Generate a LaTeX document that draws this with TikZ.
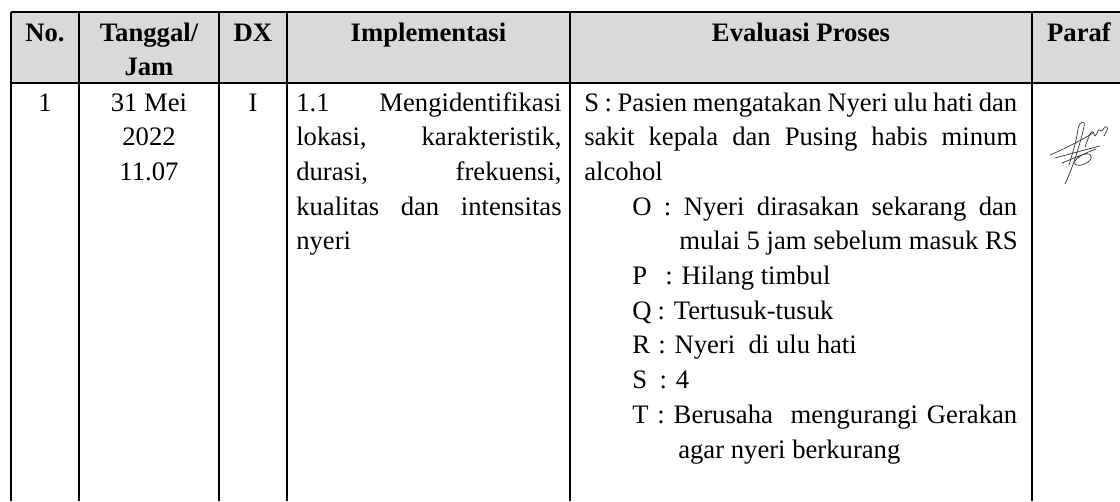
\documentclass[tikz,border=0pt]{standalone}
\usepackage{fontspec}
\setmainfont{Liberation Serif}
\usepackage{tikz}
\definecolor{headgray}{RGB}{217,217,217}
\definecolor{inkgray}{RGB}{45,45,45}

\begin{document}
\begin{tikzpicture}[x=0.75pt, y=-0.75pt,
  rule/.style={draw=black, line width=1.1pt},
  headtxt/.style={anchor=base, inner sep=0pt, font=\fontsize{20}{26}\selectfont\bfseries},
  celltxt/.style={anchor=base, inner sep=0pt, font=\fontsize{20}{26}\selectfont},
  lefttxt/.style={celltxt, anchor=base west},
  sign/.style={draw=inkgray, line width=0.5pt, line cap=round, line join=round}]
  \useasboundingbox (0,0) rectangle (1120,501);
  % header band and rules
  \fill[headgray] (11,12) rectangle (1120,83);
  \draw[rule] (11,12) -- (1120,12);
  \draw[rule] (11,83) -- (1120,83);
  \foreach \cx in {11,79,219,287,570,1032}
    \draw[rule] (\cx,12) -- (\cx,501);
  % header
  \node[headtxt] (hNo) at (45,41) {No.};
  \node[headtxt] (hTgl) at (149,41) {Tanggal/};
  \node[headtxt] (hJam) at (149,75) {Jam};
  \node[headtxt] (hDx) at (253,41) {DX};
  \node[headtxt] (hImpl) at (428.5,41) {Implementasi};
  \node[headtxt] (hEval) at (801,41) {Evaluasi Proses};
  \node[headtxt] (hParaf) at (1079,41) {Paraf};
  % first row
  \node[celltxt] (rNo) at (45,111) {1};
  \node[celltxt] (rTgl) at (149,111) {31 Mei};
  \node[celltxt] (rThn) at (149,145.7) {2022};
  \node[celltxt] (rJam) at (149,180.4) {11.07};
  \node[celltxt] (rDx) at (253,111) {I};
  % implementasi
  \node[lefttxt] (imA) at (296,111) {\makebox[199pt][s]{1.1 Mengidentifikasi}};
  \node[lefttxt] (imB) at (296,145.7) {\makebox[199pt][s]{lokasi, karakteristik,}};
  \node[lefttxt] (imC) at (296,180.4) {\makebox[199pt][s]{durasi, frekuensi,}};
  \node[lefttxt] (imD) at (296,215.1) {\makebox[199pt][s]{kualitas dan intensitas}};
  \node[lefttxt] (imE) at (296,249.8) {nyeri};
  % evaluasi proses
  \node[lefttxt] (evS) at (584,111) {\makebox[324.75pt][s]{S : Pasien mengatakan Nyeri ulu hati dan}};
  \node[lefttxt] (evS2) at (584,145.7) {\makebox[324.75pt][s]{sakit kepala dan Pusing habis minum}};
  \node[lefttxt] (evS3) at (584,180.4) {alcohol};
  \node[lefttxt] (evO) at (632,215.1) {\makebox[288.75pt][s]{O : Nyeri dirasakan sekarang dan}};
  \node[lefttxt] (evO2) at (679,249.8) {mulai 5 jam sebelum masuk RS};
  \node[lefttxt] (evP) at (632,284.5) {\makebox[24.75pt][l]{P}: Hilang timbul};
  \node[lefttxt] (evQ) at (632,319.2) {\makebox[19pt][l]{Q}: Tertusuk-tusuk};
  \node[lefttxt] (evR) at (632,353.9) {\makebox[19.5pt][l]{R}: Nyeri\ \ di ulu hati};
  \node[lefttxt] (evSk) at (632,388.6) {\makebox[20.5pt][l]{S}: 4};
  \node[lefttxt] (evT) at (632,423.3) {\makebox[288.75pt][s]{T : Berusaha\ \ mengurangi Gerakan}};
  \node[lefttxt] (evT2) at (678,458) {agar nyeri berkurang};
  % paraf (signature)
  \draw[sign] (1065,184) .. controls (1074,165) and (1081,140) .. (1084,127)
    .. controls (1086,119) and (1079,121) .. (1078,129)
    .. controls (1076,143) and (1072,155) .. (1069,165);
  \draw[sign] (1050,155) .. controls (1064,149) and (1080,141) .. (1093,133);
  \draw[sign] (1055,158) .. controls (1070,154) and (1088,149) .. (1100,146);
  \draw[sign] (1085,147) .. controls (1089,136) and (1092,127) .. (1094,134)
    .. controls (1096,141) and (1098,126) .. (1100,130)
    .. controls (1102,135) and (1104,124) .. (1107,127)
    .. controls (1109,129) and (1105,133) .. (1104,136);
  \draw[sign] (1062,163) .. controls (1075,158) and (1089,150) .. (1091,156)
    .. controls (1093,162) and (1079,168) .. (1075,164)
    .. controls (1072,159) and (1085,153) .. (1096,149);
\end{tikzpicture}
\end{document}
